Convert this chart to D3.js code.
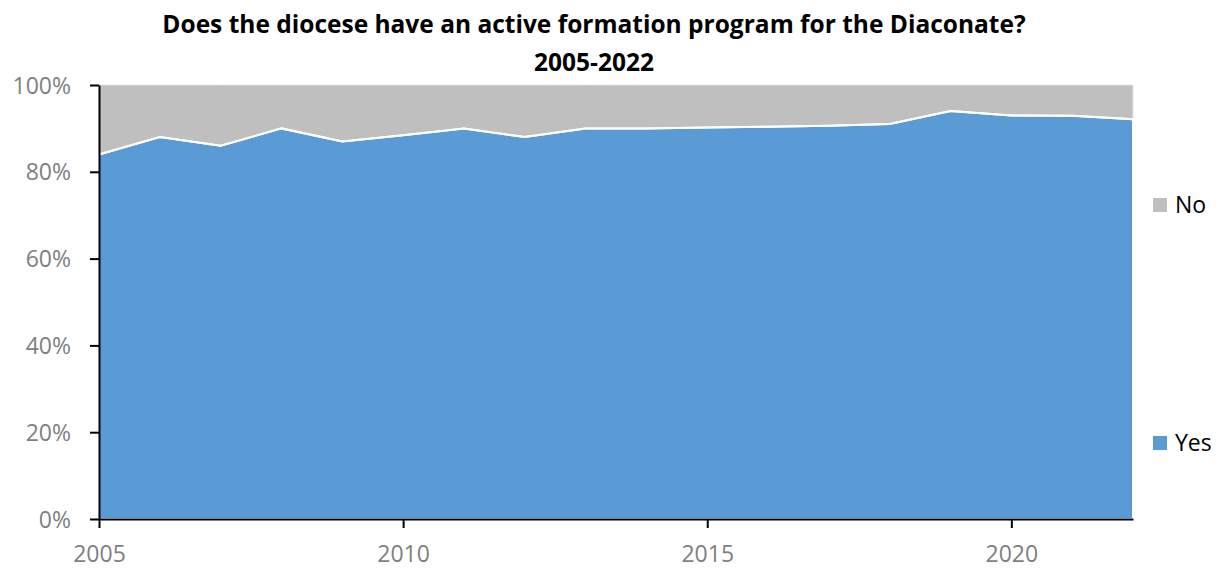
<!DOCTYPE html>
<html><head><meta charset="utf-8">
<script src="https://cdn.jsdelivr.net/npm/d3@7"></script>
<style>body{margin:0;background:#fff;}svg{display:block;}</style>
</head><body>
<svg id="c" width="1225" height="569"></svg>
<script>
const years = [2005,2006,2007,2008,2009,2010,2011,2012,2013,2014,2015,2016,2017,2018,2019,2020,2021,2022];
const yesPct = [84,88,86,90,87,88.4,90,88,90,90,90.2,90.4,90.6,91,94,93,92.9,92.1];
const noPct = yesPct.map(v => 100 - v);
const seriesNames = ["Yes","No"];
const seriesColors = ["#5B9BD5","#BFBFBF"];
const yTicks = [0,20,40,60,80,100];
const xTicks = [2005,2010,2015,2020];
const titleLines = ["Does the diocese have an active formation program for the Diaconate?","2005-2022"];

const svg = d3.select("#c");
const m = {left:99, right:1133, top:85, bottom:519};
const x = d3.scaleLinear().domain([2005,2022]).range([m.left,m.right]);
const y = d3.scaleLinear().domain([0,100]).range([m.bottom,m.top]);

const rows = years.map((yr,i)=>({year:yr, Yes:yesPct[i], No:noPct[i]}));
const stack = d3.stack().keys(seriesNames)(rows);
const area = d3.area().x(d=>x(d.data.year)).y0(d=>y(d[0])).y1(d=>y(d[1]));

svg.append("g").selectAll("path").data(stack.slice().reverse()).join("path")
  .attr("d", area)
  .attr("fill", d=>seriesColors[seriesNames.indexOf(d.key)])
  .attr("stroke", d=> d.key==="No" ? "#e4e4e4" : "#ffffff")
  .attr("stroke-width", d=> d.key==="No" ? 1 : 2);
svg.append("path").datum(stack[0])
  .attr("d", d3.line().x(d=>x(d.data.year)).y(d=>y(d[1])))
  .attr("fill","none").attr("stroke","#fff").attr("stroke-width",2);

const fontF = "Open Sans, sans-serif";
const yAxis = svg.append("g").attr("transform",`translate(${m.left},0)`)
  .call(d3.axisLeft(y).tickValues(yTicks).tickFormat(d=>d+"%").tickSize(9).tickSizeOuter(0));
const xAxis = svg.append("g").attr("transform",`translate(0,${m.bottom})`)
  .call(d3.axisBottom(x).tickValues(xTicks).tickFormat(d3.format("d")).tickSize(9).tickSizeOuter(0));
[yAxis,xAxis].forEach(g=>{
  g.select(".domain").attr("stroke","#000").attr("stroke-width",2);
  g.selectAll(".tick line").attr("stroke","#000").attr("stroke-width",2);
  g.selectAll(".tick text").attr("fill","#7f7f7f").attr("font-family",fontF).attr("font-size",23);
});
yAxis.selectAll(".tick text").attr("x",-28).attr("dy","0.35em");
xAxis.selectAll(".tick text").attr("y",35).attr("dy","0.35em");

svg.append("g").selectAll("text").data(titleLines).join("text")
  .attr("x",594).attr("y",(d,i)=>33+i*38)
  .attr("text-anchor","middle").attr("font-family",fontF).attr("font-weight","bold")
  .attr("font-size",24.5).attr("fill","#000").text(d=>d);

const legendY = {No:205, Yes:443};
const lg = svg.append("g").selectAll("g").data(["No","Yes"]).join("g")
  .attr("transform",d=>`translate(1153,${legendY[d]})`);
lg.append("rect").attr("x",0).attr("y",-7).attr("width",14).attr("height",14)
  .attr("fill",d=>seriesColors[seriesNames.indexOf(d)]);
lg.append("text").attr("x",22).attr("dy","0.35em").attr("font-family",fontF)
  .attr("font-size",23).attr("fill","#000").text(d=>d);
</script>
</body></html>
